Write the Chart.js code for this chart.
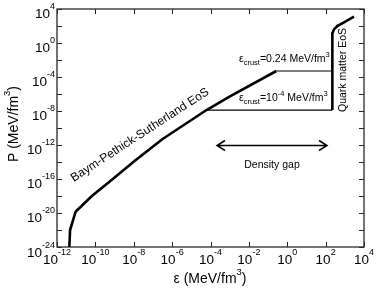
<!DOCTYPE html>
<html>
<head>
<meta charset="utf-8">
<script src="https://cdn.jsdelivr.net/npm/chart.js@4.4.0/dist/chart.umd.min.js"></script>
<style>
  html, body { margin: 0; padding: 0; background: #fff; }
  #wrap { width: 376px; height: 289px; position: relative; }
</style>
</head>
<body>
<div id="wrap"><canvas id="eosChart"></canvas></div>
<script>
/* ============================================
   DATA
   ============================================ */

// Baym-Pethick-Sutherland EoS
const bpsEps = [4.4e-12, 4.8e-12, 9.3e-12, 6.6e-11, 8.1e-10, 1.1e-8, 3.2e-7, 6.2e-5, 9.8e-4, 0.27];
const bpsP   = [1e-24, 1e-22, 1.4e-20, 1e-18, 1e-16, 1.3e-14, 5.1e-12, 1.3e-8, 4.8e-7, 5.1e-4];

// crust joins (eps_crust = 1e-4 and 0.24 MeV/fm^3)
const crustLowEps  = [6.2e-5, 224];
const crustLowP    = [1.3e-8, 1.3e-8];
const crustHighEps = [0.27, 224];
const crustHighP   = [5.1e-4, 5.1e-4];

// quark matter EoS
const quarkEps = [224, 224, 275, 407, 912, 3000];
const quarkP   = [1.3e-8, 14, 41, 100, 275, 1260];

// tick exponents
const xTickExp  = [-12, -10, -8, -6, -4, -2, 0, 2, 4];
const yTickExp  = [-24, -22, -20, -18, -16, -14, -12, -10, -8, -6, -4, -2, 0, 2, 4];
const yLabelExp = [-24, -20, -16, -12, -8, -4, 0, 4];

const FONT = '"Liberation Sans", Arial, Helvetica, sans-serif';

function toXY(xs, ys) {
  return xs.map((x, i) => ({ x: x, y: ys[i] }));
}

/**
 * Draw a run of text pieces with their own size and baseline shift
 */
function richText(ctx, parts, x, y, align) {
  let total = 0;
  parts.forEach(p => {
    ctx.font = p.s + 'px ' + FONT;
    p.w = ctx.measureText(p.t).width;
    total += p.w;
  });
  let cx = x;
  if (align === 'center') cx = x - total / 2;
  if (align === 'right') cx = x - total;
  ctx.textAlign = 'left';
  ctx.textBaseline = 'alphabetic';
  parts.forEach(p => {
    ctx.font = p.s + 'px ' + FONT;
    ctx.fillText(p.t, cx, y + (p.dy || 0));
    cx += p.w;
  });
}

const decorPlugin = {
  id: 'decor',
  afterDraw(chart) {
    const ctx = chart.ctx;
    const a = chart.chartArea;
    const xs = chart.scales.x;
    const ys = chart.scales.y;
    ctx.save();

    // frame
    ctx.strokeStyle = '#2a2a2a';
    ctx.lineWidth = 1.3;
    ctx.strokeRect(a.left, a.top, a.right - a.left, a.bottom - a.top);

    // inward ticks
    ctx.lineWidth = 1;
    ctx.beginPath();
    xTickExp.forEach(e => {
      const px = Math.round(xs.getPixelForValue(Math.pow(10, e))) + 0.5;
      ctx.moveTo(px, a.bottom); ctx.lineTo(px, a.bottom - 5);
      ctx.moveTo(px, a.top); ctx.lineTo(px, a.top + 5);
    });
    yTickExp.forEach(e => {
      const py = Math.round(ys.getPixelForValue(Math.pow(10, e))) + 0.5;
      ctx.moveTo(a.left, py); ctx.lineTo(a.left + 5, py);
      ctx.moveTo(a.right, py); ctx.lineTo(a.right - 5, py);
    });
    ctx.stroke();

    // tick labels
    ctx.fillStyle = '#000';
    xTickExp.forEach(e => {
      const px = xs.getPixelForValue(Math.pow(10, e));
      richText(ctx, [{ t: '10', s: 13.5 }, { t: String(e), s: 9, dy: -9 }], px, a.bottom + 17, 'center');
    });
    yLabelExp.forEach(e => {
      const py = ys.getPixelForValue(Math.pow(10, e));
      const off = e === -24 ? 10 : 9;
      richText(ctx, [{ t: '10', s: 13.5 }, { t: String(e), s: 9, dy: -9 }], a.left - 2, py + off, 'right');
    });

    // axis titles
    richText(ctx, [{ t: 'ε (MeV/fm', s: 14 }, { t: '3', s: 9.5, dy: -8 }, { t: ')', s: 14 }], 210, 283, 'center');
    ctx.save();
    ctx.translate(18, 124);
    ctx.rotate(-Math.PI / 2);
    richText(ctx, [{ t: 'P (MeV/fm', s: 14 }, { t: '3', s: 9.5, dy: -8 }, { t: ')', s: 14 }], 0, 0, 'center');
    ctx.restore();

    // curve labels
    ctx.save();
    ctx.translate(140, 135);
    ctx.rotate(-33 * Math.PI / 180);
    ctx.font = '12px ' + FONT;
    ctx.textAlign = 'center';
    ctx.textBaseline = 'middle';
    ctx.fillText('Baym-Pethick-Sutherland EoS', 0, 0);
    ctx.restore();

    ctx.save();
    ctx.translate(345.5, 70);
    ctx.rotate(-Math.PI / 2);
    richText(ctx, [{ t: 'Quark matter EoS', s: 10.5 }], 0, 0, 'center');
    ctx.restore();

    richText(ctx, [
      { t: 'ε', s: 10.5 }, { t: 'crust', s: 7.5, dy: 3 },
      { t: '=0.24 MeV/fm', s: 10.5 }, { t: '3', s: 7.5, dy: -5 }
    ], 239, 62, 'left');
    richText(ctx, [
      { t: 'ε', s: 10.5 }, { t: 'crust', s: 7.5, dy: 3 },
      { t: '=10', s: 10.5 }, { t: '-4', s: 7.5, dy: -5 },
      { t: ' MeV/fm', s: 10.5 }, { t: '3', s: 7.5, dy: -5 }
    ], 239, 101, 'left');

    // density gap arrow
    const ax0 = 217, ax1 = 327, ay = 145.5;
    ctx.strokeStyle = '#000';
    ctx.lineWidth = 1.5;
    ctx.beginPath();
    ctx.moveTo(ax0, ay); ctx.lineTo(ax1, ay);
    ctx.moveTo(ax0 + 8, ay - 5); ctx.lineTo(ax0, ay); ctx.lineTo(ax0 + 8, ay + 5);
    ctx.moveTo(ax1 - 8, ay - 5); ctx.lineTo(ax1, ay); ctx.lineTo(ax1 - 8, ay + 5);
    ctx.stroke();
    richText(ctx, [{ t: 'Density gap', s: 10.5 }], 272, 168, 'center');

    ctx.restore();
  }
};

const lineStyle = (w) => ({
  borderColor: '#000',
  borderWidth: w,
  pointRadius: 0,
  fill: false,
  tension: 0,
  borderJoinStyle: 'round',
  borderCapStyle: 'butt'
});

const config = {
  type: 'line',
  data: {
    datasets: [
      Object.assign({ data: toXY(crustLowEps, crustLowP) }, lineStyle(1.2)),
      Object.assign({ data: toXY(crustHighEps, crustHighP) }, lineStyle(1.2)),
      Object.assign({ data: toXY(bpsEps, bpsP) }, lineStyle(2.6)),
      Object.assign({ data: toXY(quarkEps, quarkP) }, lineStyle(2.6))
    ]
  },
  options: {
    responsive: true,
    maintainAspectRatio: false,
    animation: false,
    parsing: false,
    layout: { padding: { left: 57, right: 12, top: 9, bottom: 42 } },
    plugins: {
      legend: { display: false },
      tooltip: { enabled: false }
    },
    scales: {
      x: { type: 'logarithmic', min: 1e-12, max: 1e4, display: false },
      y: { type: 'logarithmic', min: 1e-24, max: 1e4, display: false }
    }
  },
  plugins: [decorPlugin]
};

new Chart(document.getElementById('eosChart').getContext('2d'), config);
</script>
</body>
</html>
